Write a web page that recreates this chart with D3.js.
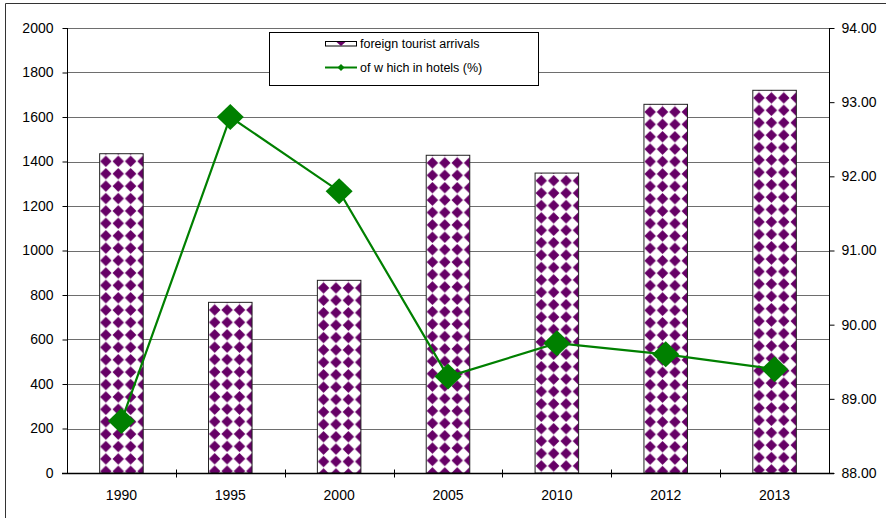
<!DOCTYPE html>
<html>
<head>
<meta charset="utf-8">
<script src="https://cdn.jsdelivr.net/npm/d3@7"></script>
<style>
  html, body { margin: 0; padding: 0; background: #fff; }
  svg { display: block; font-family: "Liberation Sans", Arial, sans-serif; }
</style>
</head>
<body>
<svg id="chart" width="886" height="518"></svg>
<script>
// Foreign tourist arrivals (thousands) and share staying in hotels (%)
const years = ["1990", "1995", "2000", "2005", "2010", "2012", "2013"];
const arrivals = [1435, 767, 866, 1428, 1348, 1657, 1720];
const hotelShare = [88.7, 92.8, 91.8, 89.3, 89.75, 89.6, 89.4];
const leftTicks = [0, 200, 400, 600, 800, 1000, 1200, 1400, 1600, 1800, 2000];
const rightTicks = [88, 89, 90, 91, 92, 93, 94];
const seriesNames = ["foreign tourist arrivals", "of w hich in hotels (%)"];

const purple = "#660066";
const green = "#008000";

const svg = d3.select("#chart");
const margin = { left: 67, right: 829, top: 28, bottom: 473 };

const x = d3.scaleBand().domain(years).range([margin.left, margin.right]).padding(0);
const yL = d3.scaleLinear().domain([0, 2000]).range([margin.bottom, margin.top]);
const yR = d3.scaleLinear().domain([88, 94]).range([margin.bottom, margin.top]);
const barW = x.bandwidth() * 0.4;

// Chart frame (left and top edges)
svg.append("path")
  .attr("d", "M5.5,518 V3.5 H886")
  .attr("fill", "none").attr("stroke", "#333").attr("stroke-width", 1);

// Diamond fill pattern
const defs = svg.append("defs");
defs.append("filter").attr("id", "soft")
  .attr("x", -0.5).attr("y", -0.5).attr("width", 2).attr("height", 2)
  .append("feGaussianBlur").attr("stdDeviation", 0.5);
const cell = 12.4;
const pat = defs.append("pattern")
  .attr("id", "diamonds")
  .attr("patternUnits", "userSpaceOnUse")
  .attr("width", cell).attr("height", cell);
pat.append("rect").attr("width", cell).attr("height", cell).attr("fill", "#fff");
const c = cell / 2, r = 5.7;
const diamondPts = (cx, cy, rr) => `${cx},${cy - rr} ${cx + rr},${cy} ${cx},${cy + rr} ${cx - rr},${cy}`;
[[c, c + 1.5], [c, c + 1.5 - cell]].forEach(([cx, cy]) => {
  pat.append("polygon")
    .attr("points", diamondPts(cx, cy, r))
    .attr("fill", purple).attr("filter", "url(#soft)");
});

// Horizontal gridlines
svg.append("g")
  .selectAll("line")
  .data(leftTicks)
  .join("line")
  .attr("x1", margin.left).attr("x2", margin.right)
  .attr("y1", d => Math.round(yL(d)) + 0.5).attr("y2", d => Math.round(yL(d)) + 0.5)
  .attr("stroke", "#6e6e6e").attr("stroke-width", 1);

// Bars, each with the pattern anchored at its own corner
const bars = svg.append("g")
  .selectAll("g")
  .data(years.map((yr, i) => ({ yr, v: arrivals[i] })))
  .join("g")
  .attr("transform", d => `translate(${x(d.yr) + (x.bandwidth() - barW) / 2},${yL(d.v)})`);
bars.append("rect")
  .attr("x", 0).attr("y", 0)
  .attr("width", barW)
  .attr("height", d => yL(0) - yL(d.v))
  .attr("fill", "url(#diamonds)")
  .attr("stroke", "#222").attr("stroke-width", 1);

// Left axis
const axisL = svg.append("g")
  .attr("transform", `translate(${margin.left + 0.5},0)`)
  .call(d3.axisLeft(yL).tickValues(leftTicks).tickFormat(d3.format("d")).tickSize(5).tickPadding(9));
// Right axis
const axisR = svg.append("g")
  .attr("transform", `translate(${margin.right + 0.5},0)`)
  .call(d3.axisRight(yR).tickValues(rightTicks).tickFormat(d3.format(".2f")).tickSize(5).tickPadding(7));
// Bottom axis with crossing ticks at category boundaries
const axisB = svg.append("g")
  .attr("transform", `translate(0,${margin.bottom + 0.5})`)
  .call(d3.axisBottom(x).tickSize(0).tickPadding(17));
axisB.append("g")
  .selectAll("line")
  .data(years.slice(1))
  .join("line")
  .attr("x1", d => Math.round(x(d)) + 0.5).attr("x2", d => Math.round(x(d)) + 0.5)
  .attr("y1", -4).attr("y2", 4)
  .attr("stroke", "#000");

[axisL, axisR, axisB].forEach(g => {
  g.select(".domain").attr("stroke", "#000").attr("stroke-width", 1);
  g.selectAll(".tick line").attr("stroke", "#000");
  g.selectAll("text").attr("font-size", 14).attr("fill", "#000")
    .attr("font-family", "Liberation Sans, Arial, sans-serif");
});
axisL.select(".domain").attr("d", `M0,${margin.bottom}V${margin.top}`);
axisR.select(".domain").attr("d", `M0,${margin.bottom}V${margin.top}`);
axisB.select(".domain").attr("d", `M${margin.left - 5},0H${margin.right + 5}`).attr("stroke-width", 1.5);

// Hotel share line with diamond markers
const pts = years.map((yr, i) => [x(yr) + x.bandwidth() / 2, yR(hotelShare[i])]);
svg.append("path")
  .attr("d", d3.line()(pts))
  .attr("fill", "none").attr("stroke", green).attr("stroke-width", 2.2);
svg.append("g")
  .selectAll("polygon")
  .data(pts)
  .join("polygon")
  .attr("points", d => `${d[0]},${d[1] - 13} ${d[0] + 13.5},${d[1]} ${d[0]},${d[1] + 13} ${d[0] - 13.5},${d[1]}`)
  .attr("fill", green);

// Legend
const lg = svg.append("g");
lg.append("rect")
  .attr("x", 269.5).attr("y", 32.5).attr("width", 269).attr("height", 53)
  .attr("fill", "#fff").attr("stroke", "#000");
lg.append("rect")
  .attr("x", 325.5).attr("y", 41.5).attr("width", 31).attr("height", 4.5)
  .attr("fill", "#fff").attr("stroke", "#000");
lg.append("polygon")
  .attr("points", "336.5,42 345.5,42 341,46")
  .attr("fill", purple);
lg.append("line")
  .attr("x1", 325).attr("x2", 357).attr("y1", 67.5).attr("y2", 67.5)
  .attr("stroke", green).attr("stroke-width", 2);
lg.append("polygon")
  .attr("points", diamondPts(341, 67.5, 3.5))
  .attr("fill", green);
lg.selectAll("text")
  .data(seriesNames)
  .join("text")
  .attr("x", 360)
  .attr("y", (d, i) => 47.5 + i * 24)
  .attr("font-size", 12.5)
  .attr("fill", "#000")
  .text(d => d);
</script>
</body>
</html>
